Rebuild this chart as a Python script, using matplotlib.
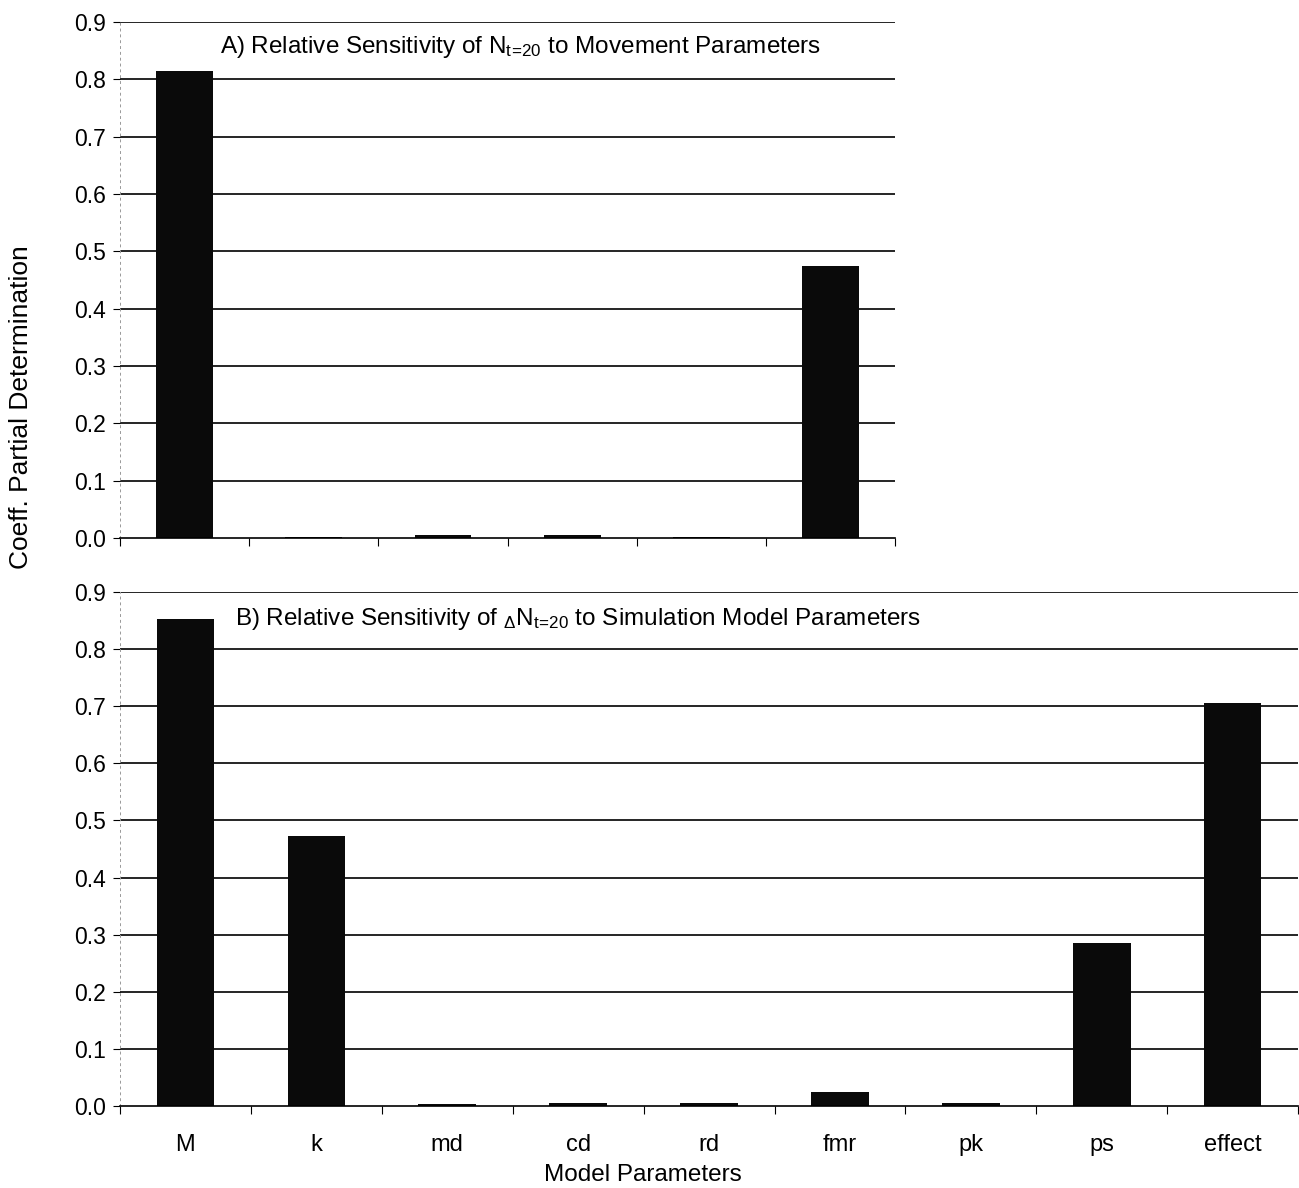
import matplotlib.pyplot as plt
import numpy as np

plt.rcParams['font.family'] = ['Liberation Sans', 'DejaVu Sans']
plt.rcParams['mathtext.fontset'] = 'custom'
plt.rcParams['mathtext.rm'] = 'Liberation Sans'
plt.rcParams['mathtext.it'] = 'Liberation Sans'

# panel A: movement parameters
move_params = ['M', 'k', 'md', 'cd', 'rd', 'fmr']
move_vals = [0.815, 0.002, 0.006, 0.005, 0.002, 0.475]

# panel B: simulation model parameters
sim_params = ['M', 'k', 'md', 'cd', 'rd', 'fmr', 'pk', 'ps', 'effect']
sim_vals = [0.852, 0.472, 0.003, 0.006, 0.005, 0.025, 0.006, 0.286, 0.705]

yticks = np.arange(0, 0.91, 0.1)

fig = plt.figure(figsize=(12.99, 11.88), dpi=100)
axA = fig.add_axes([0.0924, 0.5471, 0.5966, 0.4343])
axB = fig.add_axes([0.0924, 0.069, 0.9069, 0.4327])


def style(ax, n):
    ax.set_ylim(0, 0.9)
    ax.set_xlim(-0.5, n - 0.5)
    ax.set_yticks(yticks)
    ax.set_yticklabels(['%.1f' % v for v in yticks], fontsize=16.5)
    for y in yticks[1:]:
        ax.axhline(y, color='black', lw=1.2, zorder=1)
    for s in ['top', 'right']:
        ax.spines[s].set_visible(False)
    ax.spines['left'].set_color('#999999')
    ax.spines['left'].set_linestyle((0, (2, 4)))
    ax.spines['left'].set_linewidth(0.7)
    ax.spines['bottom'].set_linewidth(1.2)
    ax.tick_params(axis='y', length=5, width=0.8, pad=5)
    ax.set_xticks(np.arange(n + 1) - 0.5, minor=True)
    ax.tick_params(axis='x', which='minor', length=6, width=0.8)
    ax.tick_params(axis='x', which='major', length=0, pad=20, labelsize=17)


sub = r'$_{t\!=\!20}$'

x = np.arange(len(move_params))
axA.bar(x, move_vals, width=0.44, color='#0a0a0a', zorder=2)
style(axA, len(move_params))
axA.set_xticks(x)
axA.set_xticklabels([])
axA.text(0.129, 0.856, 'A) Relative Sensitivity of N' + sub + ' to Movement Parameters',
         transform=axA.get_yaxis_transform(), fontsize=17.5, va='center', ha='left')

x = np.arange(len(sim_params))
axB.bar(x, sim_vals, width=0.44, color='#0a0a0a', zorder=2)
style(axB, len(sim_params))
axB.set_xticks(x)
axB.set_xticklabels(sim_params)
axB.text(0.0976, 0.852, r'B) Relative Sensitivity of $_{\Delta}$N' + sub + ' to Simulation Model Parameters',
         transform=axB.get_yaxis_transform(), fontsize=17.5, va='center', ha='left')

fig.text(0.016, 0.657, 'Coeff. Partial Determination', rotation=90, fontsize=19,
         ha='center', va='center')
fig.text(0.495, 0.011, 'Model Parameters', fontsize=17.5, ha='center', va='center')

fig.savefig('out.png', dpi=100)
